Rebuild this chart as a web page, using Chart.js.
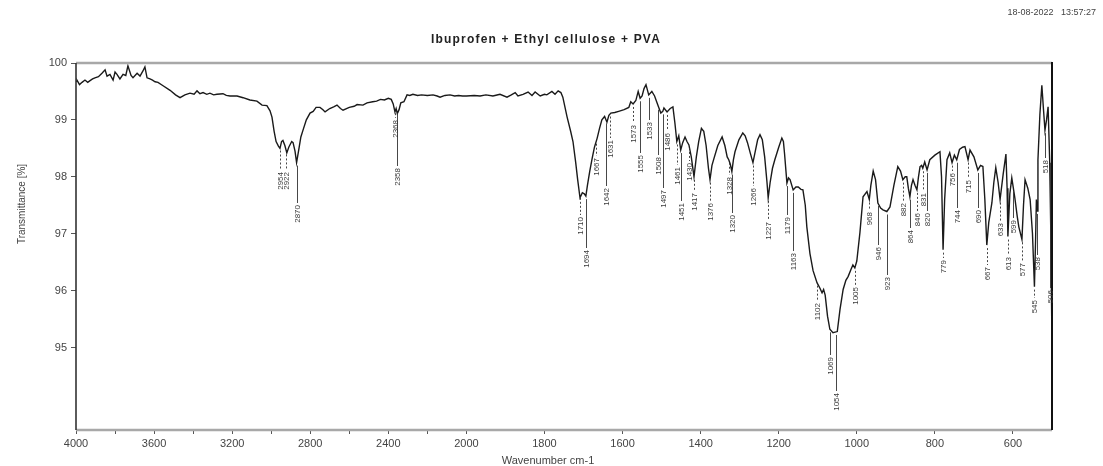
<!DOCTYPE html>
<html>
<head>
<meta charset="utf-8">
<title>Ibuprofen + Ethyl cellulose + PVA</title>
<script src="https://cdn.jsdelivr.net/npm/chart.js@4.4.1/dist/chart.umd.min.js"></script>
<style>
  html, body { margin: 0; padding: 0; background: #fff; }
</style>
</head>
<body>
<canvas id="irChart" width="1103" height="466"></canvas>
<script>
'use strict';

// spectrum (cm-1, %T)
const wavenumbers = [
  4000, 3995, 3982, 3969, 3954, 3940, 3928, 3915, 3903, 3885, 3867, 3851, 3841, 3826, 3810, 3800,
  3790, 3775, 3759, 3745, 3734, 3718, 3708, 3687, 3672, 3657, 3647, 3636, 3621, 3608, 3595, 3580,
  3554, 3518, 3490, 3467, 3442, 3416, 3395, 3380, 3365, 3349, 3330, 3314, 3295, 3278, 3247, 3230,
  3211, 3175, 3144, 3109, 3073, 3047, 3022, 3006, 2996, 2985, 2975, 2963, 2955, 2947, 2940, 2930,
  2920, 2910, 2895, 2888, 2878, 2870, 2860, 2848, 2837, 2820, 2801, 2785, 2770, 2750, 2735, 2724,
  2700, 2680, 2663, 2645, 2632, 2600, 2575, 2560, 2530, 2509, 2480, 2460, 2440, 2420, 2400, 2385,
  2375, 2366, 2360, 2354, 2345, 2336, 2320, 2304, 2290, 2274, 2250, 2230, 2200, 2171, 2150, 2135,
  2110, 2084, 2060, 2040, 2020, 2000, 1980, 1965, 1950, 1932, 1914, 1896, 1885, 1875, 1868, 1855,
  1842, 1832, 1824, 1811, 1800, 1794, 1781, 1773, 1765, 1758, 1753, 1742, 1733, 1727, 1720, 1715,
  1709, 1703, 1698, 1694, 1690, 1684, 1678, 1672, 1665, 1659, 1653, 1646, 1640, 1635, 1630, 1620,
  1610, 1596, 1584, 1579, 1573, 1566, 1560, 1555, 1550, 1545, 1540, 1533, 1525, 1518, 1508, 1502,
  1497, 1494, 1486, 1478, 1471, 1466, 1461, 1456, 1451, 1446, 1440, 1435, 1430, 1424, 1417, 1411,
  1405, 1398, 1392, 1386, 1380, 1376, 1371, 1366, 1356, 1345, 1338, 1332, 1328, 1324, 1320, 1316,
  1312, 1302, 1292, 1286, 1280, 1273, 1266, 1260, 1254, 1248, 1242, 1236, 1230, 1227, 1222, 1216,
  1210, 1200, 1192, 1188, 1185, 1179, 1175, 1171, 1163, 1156, 1150, 1143, 1138, 1132, 1128, 1120,
  1112, 1102, 1095, 1089, 1085, 1081, 1075, 1069, 1061, 1050, 1043, 1035, 1028, 1022, 1015, 1010,
  1005, 1000, 992, 984, 974, 968, 964, 958, 952, 946, 939, 933, 923, 915, 905, 895,
  888, 882, 876, 872, 868, 864, 860, 856, 851, 846, 842, 838, 834, 831, 826, 820,
  813, 800, 787, 783, 779, 775, 769, 762, 756, 750, 744, 737, 729, 723, 715, 710,
  700, 690, 683, 677, 672, 667, 662, 654, 649, 644, 638, 633, 625, 618, 615, 613,
  608, 603, 599, 595, 589, 585, 577, 573, 569, 562, 556, 550, 545, 542, 540, 538,
  536, 531, 526, 522, 518, 514, 510, 506, 503, 500
];
const transmittance = [
  99.68, 99.70, 99.62, 99.66, 99.70, 99.66, 99.69, 99.72, 99.74, 99.76, 99.82, 99.88, 99.77, 99.80, 99.70, 99.84,
  99.80, 99.72, 99.80, 99.78, 99.95, 99.78, 99.74, 99.82, 99.77, 99.86, 99.93, 99.74, 99.72, 99.70, 99.67, 99.66,
  99.60, 99.52, 99.44, 99.39, 99.44, 99.47, 99.45, 99.51, 99.46, 99.48, 99.45, 99.47, 99.44, 99.45, 99.46, 99.43,
  99.42, 99.42, 99.39, 99.35, 99.33, 99.26, 99.25, 99.16, 99.05, 98.80, 98.62, 98.54, 98.50, 98.62, 98.64, 98.55,
  98.42, 98.52, 98.62, 98.60, 98.45, 98.25, 98.45, 98.70, 98.82, 99.00, 99.12, 99.15, 99.22, 99.22, 99.18, 99.14,
  99.20, 99.23, 99.26, 99.20, 99.17, 99.22, 99.24, 99.27, 99.26, 99.30, 99.32, 99.33, 99.36, 99.35, 99.38, 99.36,
  99.28, 99.14, 99.20, 99.11, 99.18, 99.30, 99.32, 99.44, 99.43, 99.45, 99.43, 99.44, 99.43, 99.44, 99.42, 99.40,
  99.43, 99.44, 99.42, 99.43, 99.42, 99.42, 99.43, 99.42, 99.44, 99.42, 99.45, 99.40, 99.44, 99.48, 99.42, 99.45,
  99.49, 99.43, 99.49, 99.42, 99.45, 99.44, 99.50, 99.45, 99.51, 99.48, 99.40, 99.05, 98.80, 98.62, 98.25, 97.95,
  97.63, 97.72, 97.70, 97.66, 97.85, 98.10, 98.32, 98.52, 98.68, 98.85, 99.00, 99.06, 98.96, 99.08, 99.12, 99.13,
  99.15, 99.18, 99.22, 99.32, 99.28, 99.34, 99.50, 99.38, 99.42, 99.55, 99.62, 99.44, 99.50, 99.42, 99.23, 99.12,
  99.15, 99.21, 99.14, 99.20, 99.23, 98.95, 98.62, 98.72, 98.47, 98.60, 98.70, 98.62, 98.56, 98.35, 98.00, 98.35,
  98.62, 98.85, 98.80, 98.55, 98.15, 97.95, 98.20, 98.32, 98.55, 98.70, 98.55, 98.35, 98.30, 98.22, 98.09, 98.30,
  98.44, 98.65, 98.77, 98.72, 98.60, 98.42, 98.25, 98.45, 98.65, 98.74, 98.65, 98.35, 97.90, 97.63, 97.90, 98.15,
  98.30, 98.52, 98.68, 98.62, 98.40, 97.89, 97.98, 97.95, 97.77, 97.82, 97.82, 97.78, 97.77, 97.50, 97.12, 96.65,
  96.35, 96.14, 96.05, 95.96, 96.02, 95.92, 95.55, 95.32, 95.26, 95.28, 95.67, 96.02, 96.18, 96.25, 96.37, 96.45,
  96.40, 96.52, 97.02, 97.65, 97.74, 97.60, 97.85, 98.10, 97.95, 97.54, 97.45, 97.42, 97.39, 97.47, 97.85, 98.18,
  98.10, 97.95, 98.00, 98.00, 97.80, 97.65, 97.85, 97.95, 97.85, 97.77, 98.00, 98.18, 98.20, 98.15, 98.26, 98.12,
  98.30, 98.38, 98.44, 98.00, 96.72, 97.60, 98.30, 98.42, 98.25, 98.38, 98.30, 98.48, 98.52, 98.53, 98.30, 98.47,
  98.35, 98.12, 98.20, 98.18, 97.60, 96.80, 97.20, 97.54, 97.90, 98.16, 97.90, 97.60, 98.05, 98.40, 97.80, 96.95,
  97.70, 97.98, 97.80, 97.62, 97.30, 97.12, 96.90, 97.50, 97.95, 97.80, 97.60, 97.00, 96.07, 96.90, 97.60, 97.40,
  98.30, 99.10, 99.61, 99.20, 98.82, 99.00, 99.23, 98.30, 97.00, 95.02
];

// peak picks printed under the trace
const peakWavenumbers = [
  2954, 2922, 2870, 2368, 2358, 1710, 1694, 1667, 1642, 1631, 1573, 1555, 1533, 1508, 1497, 1486,
  1461, 1451, 1430, 1417, 1376, 1328, 1320, 1266, 1227, 1179, 1163, 1102, 1069, 1054, 1005, 968,
  946, 923, 882, 864, 846, 831, 820, 779, 756, 744, 715, 690, 667, 633, 613, 599,
  577, 545, 538, 518, 506
];

const xTicks = [4000, 3800, 3600, 3400, 3200, 3000, 2800, 2600, 2400, 2200, 2000,
                1800, 1600, 1400, 1200, 1000, 800, 600];
const xLabels = [4000, 3600, 3200, 2800, 2400, 2000, 1800, 1600, 1400, 1200, 1000, 800, 600];
const yTicks = [95, 96, 97, 98, 99, 100];

// where each peak label's text starts (px from top), same order as peakWavenumbers
const peakLabelTop = [
  172, 172, 205, 120, 168, 217, 250, 158, 188, 140, 125, 155, 122, 157, 190, 133,
  167, 203, 163, 193, 203, 177, 215, 188, 222, 217, 253, 303, 357, 393, 287, 212,
  247, 277, 203, 230, 213, 193, 213, 260, 173, 210, 180, 210, 267, 223, 257, 220,
  263, 300, 257, 160, 290
];

const FONT = 'Liberation Sans, Arial, sans-serif';

// the printout is compressed 2x above 2000 cm-1
function wnToDecimal(v) {
  return v >= 2000 ? (4000 - v) / 2 / 2500 : (1000 + 2000 - v) / 2500;
}
function decimalToWn(d) {
  const p = d * 2500;
  return p <= 1000 ? 4000 - 2 * p : 3000 - p;
}

class FtirScale extends Chart.LinearScale {
  getPixelForValue(v) {
    if (v === null || v === undefined || isNaN(v)) return NaN;
    return this.getPixelForDecimal(wnToDecimal(v));
  }
  getValueForPixel(px) {
    return decimalToWn(this.getDecimalForPixel(px));
  }
}
FtirScale.id = 'ftir';
FtirScale.defaults = Chart.LinearScale.defaults;
Chart.register(FtirScale);

function valueAt(wn) {
  for (let i = 0; i < wavenumbers.length - 1; i++) {
    const a = wavenumbers[i], b = wavenumbers[i + 1];
    if (wn <= a && wn >= b) {
      const t = (a - wn) / (a - b);
      return transmittance[i] + t * (transmittance[i + 1] - transmittance[i]);
    }
  }
  return transmittance[transmittance.length - 1];
}

const overlay = {
  id: 'overlay',
  afterDraw(chart) {
    const ctx = chart.ctx;
    const area = chart.chartArea;
    const xs = chart.scales.x, ys = chart.scales.y;
    ctx.save();

    // frame
    ctx.lineWidth = 2.5;
    ctx.strokeStyle = '#a8a8a8';
    ctx.beginPath();
    ctx.moveTo(area.left, area.top); ctx.lineTo(area.right, area.top);
    ctx.moveTo(area.left, area.bottom); ctx.lineTo(area.right, area.bottom);
    ctx.stroke();
    ctx.lineWidth = 1.6;
    ctx.strokeStyle = '#333';
    ctx.beginPath();
    ctx.moveTo(area.left, area.top); ctx.lineTo(area.left, area.bottom);
    ctx.stroke();
    ctx.lineWidth = 2;
    ctx.strokeStyle = '#111';
    ctx.beginPath();
    ctx.moveTo(area.right, area.top - 1); ctx.lineTo(area.right, area.bottom);
    ctx.stroke();

    // peak picks
    ctx.font = '8px ' + FONT;
    ctx.fillStyle = '#3a3a3a';
    ctx.strokeStyle = '#333';
    ctx.lineWidth = 0.9;
    ctx.textAlign = 'right';
    ctx.textBaseline = 'middle';
    peakWavenumbers.forEach((wn, i) => {
      const x = Math.round(xs.getPixelForValue(wn)) + 0.5;
      const yc = ys.getPixelForValue(valueAt(wn)) + 3;
      const top = peakLabelTop[i];
      if (top - 2 > yc) {
        ctx.setLineDash(top - yc < 24 ? [2, 2] : []);
        ctx.beginPath();
        ctx.moveTo(x, yc);
        ctx.lineTo(x, top - 2);
        ctx.stroke();
      }
      ctx.save();
      ctx.translate(x, top);
      ctx.rotate(-Math.PI / 2);
      ctx.fillText(String(wn), 0, 0);
      ctx.restore();
    });
    ctx.setLineDash([]);

    // texts
    ctx.fillStyle = '#222';
    ctx.textBaseline = 'middle';
    ctx.textAlign = 'center';
    ctx.font = 'bold 12px ' + FONT;
    ctx.letterSpacing = '1.2px';
    ctx.fillText('Ibuprofen + Ethyl cellulose + PVA', 546, 40);
    ctx.letterSpacing = '0px';
    ctx.font = '9px ' + FONT;
    ctx.textAlign = 'right';
    ctx.fillStyle = '#444';
    ctx.fillText('18-08-2022   13:57:27', 1096, 13);
    ctx.textAlign = 'center';
    ctx.font = '11px ' + FONT;
    ctx.fillText('Wavenumber cm-1', 548, 461);
    ctx.save();
    ctx.translate(22, 204);
    ctx.rotate(-Math.PI / 2);
    ctx.font = '10px ' + FONT;
    ctx.fillText('Transmittance [%]', 0, 0);
    ctx.restore();

    ctx.restore();
  }
};

const irChart = new Chart(document.getElementById('irChart'), {
  type: 'line',
  data: {
    datasets: [{
      data: wavenumbers.map((w, i) => ({ x: w, y: transmittance[i] })),
      borderColor: '#1a1a1a',
      borderWidth: 1.4,
      pointRadius: 0,
      tension: 0,
      fill: false
    }]
  },
  options: {
    responsive: false,
    animation: false,
    events: [],
    layout: { padding: { top: 63, right: 51, left: 0, bottom: 0 } },
    plugins: { legend: { display: false }, tooltip: { enabled: false }, title: { display: false } },
    scales: {
      x: {
        type: 'ftir',
        min: 500,
        max: 4000,
        afterBuildTicks: s => { s.ticks = xTicks.map(v => ({ value: v })); },
        afterFit: s => { s.height = 36; },
        grid: { drawOnChartArea: false, drawTicks: true, tickLength: 4, color: '#555' },
        border: { display: false },
        ticks: {
          autoSkip: false, maxRotation: 0, padding: 3, color: '#444',
          font: { family: FONT, size: 11 },
          callback: v => xLabels.includes(v) ? String(v) : ''
        }
      },
      y: {
        min: 93.55,
        max: 100,
        afterBuildTicks: s => { s.ticks = yTicks.map(v => ({ value: v })); },
        afterFit: s => { s.width = 76; },
        grid: { drawOnChartArea: false, drawTicks: true, tickLength: 5, color: '#555' },
        border: { display: false },
        ticks: {
          padding: 4, color: '#444',
          font: { family: FONT, size: 11 },
          callback: v => String(v)
        }
      }
    }
  },
  plugins: [overlay]
});
</script>
</body>
</html>
